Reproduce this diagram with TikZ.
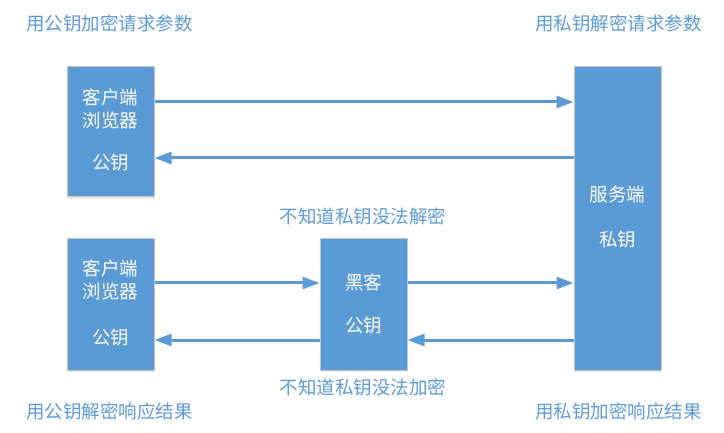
\documentclass[tikz,border=0pt]{standalone}
\usepackage{fontspec}
\setmainfont{Noto Sans CJK SC}
\usetikzlibrary{arrows.meta,shadows}
\definecolor{bl}{HTML}{5B9BD5}
\definecolor{bd}{HTML}{BFC5CC}
\begin{document}
\begin{tikzpicture}[x=1pt,y=-1pt,
  box/.style={draw=bd,line width=1pt,fill=bl,inner sep=0pt,drop shadow={shadow xshift=1pt,shadow yshift=-2pt,opacity=0.15}},
  wt/.style={text=white,font=\fontsize{18.5}{22}\selectfont,inner sep=0pt},
  lab/.style={text=bl,font=\fontsize{18.5}{22}\selectfont,inner sep=0pt},
  arr/.style={draw=bl,line width=3pt,-{Triangle[length=17pt,width=12pt]}}]
\useasboundingbox (0,0) rectangle (724,433);
% boxes
\node[box,minimum width=87pt,minimum height=130pt] (c1) at (110.5,132) {};
\node[box,minimum width=87pt,minimum height=131pt] (c2) at (110.5,304.5) {};
\node[box,minimum width=87pt,minimum height=131pt] (h) at (363.5,304.5) {};
\node[box,minimum width=87pt,minimum height=303pt] (s) at (617.5,218.5) {};
% box texts
\node[wt] (c1a) at (110.5,97) {客户端};
\node[wt] (c1b) at (110.5,120) {浏览器};
\node[wt] (c1c) at (110.5,163) {公钥};
\node[wt] (c2a) at (110.5,268) {客户端};
\node[wt] (c2b) at (110.5,291) {浏览器};
\node[wt] (c2c) at (110.5,338) {公钥};
\node[wt] (ha) at (363.5,282) {黑客};
\node[wt] (hb) at (363.5,326) {公钥};
\node[wt] (sa) at (617.5,194) {服务端};
\node[wt] (sb) at (617.5,240) {私钥};
% labels
\node[lab,anchor=west] (l1) at (26,23) {用公钥加密请求参数};
\node[lab,anchor=east] (l2) at (702,23) {用私钥解密请求参数};
\node[lab] (l3) at (363,216) {不知道私钥没法解密};
\node[lab] (l4) at (363,387) {不知道私钥没法加密};
\node[lab,anchor=west] (l5) at (26,411) {用公钥解密响应结果};
\node[lab,anchor=east] (l6) at (702,411) {用私钥加密响应结果};
% arrows
\draw[arr] (c1.east |- 0,102) -- (s.west |- 0,102);
\draw[arr] (s.west |- 0,158) -- (c1.east |- 0,158);
\draw[arr] (c2.east |- 0,283) -- (h.west |- 0,283);
\draw[arr] (h.west |- 0,340) -- (c2.east |- 0,340);
\draw[arr] (h.east |- 0,283) -- (s.west |- 0,283);
\draw[arr] (s.west |- 0,340) -- (h.east |- 0,340);
\end{tikzpicture}
\end{document}
